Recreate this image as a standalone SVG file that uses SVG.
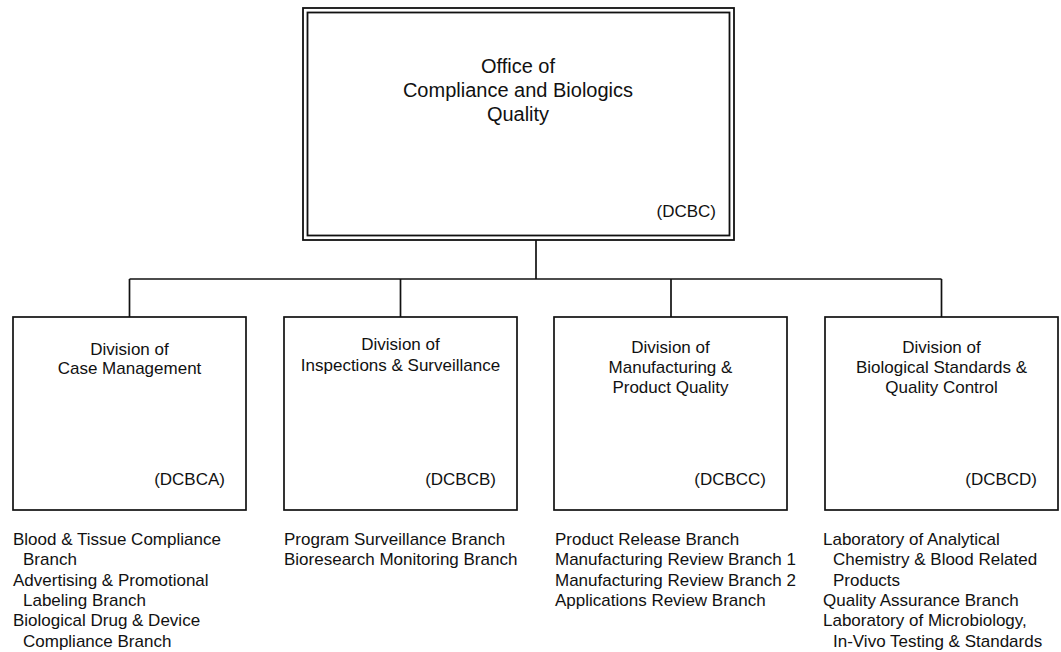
<svg xmlns="http://www.w3.org/2000/svg" width="1061" height="652" viewBox="0 0 1061 652">
<style>
text{font-family:"Liberation Sans",Arial,sans-serif;fill:#111}
.t{font-size:20px;text-anchor:middle}
.d{font-size:17px;text-anchor:middle}
.c{font-size:17px;text-anchor:end}
.l{font-size:17px}
.box{fill:#fff;stroke:#111;stroke-width:1.7}
.dbl{fill:none;stroke:#111;stroke-width:1.8}
.con{fill:none;stroke:#111;stroke-width:1.7}
</style>
<rect width="1061" height="652" fill="#fff"/>
<g id="connectors">
<line class="con" x1="536" y1="240" x2="536" y2="279"/>
<line class="con" x1="129.5" y1="279" x2="941.5" y2="279"/>
<line class="con" x1="129.5" y1="279" x2="129.5" y2="317"/>
<line class="con" x1="400.5" y1="279" x2="400.5" y2="317"/>
<line class="con" x1="671" y1="279" x2="671" y2="317"/>
<line class="con" x1="941.5" y1="279" x2="941.5" y2="317"/>
</g>
<g id="office">
<rect class="dbl" x="303" y="8" width="431" height="232" fill="#fff"/>
<rect class="dbl" x="307.5" y="12.5" width="422" height="223"/>
<text class="t" x="518" y="73">Office of</text>
<text class="t" x="518" y="97">Compliance and Biologics</text>
<text class="t" x="518" y="121">Quality</text>
<text class="c" x="716" y="217">(DCBC)</text>
</g>
<g id="dcbca">
<rect class="box" x="13" y="317" width="233" height="193"/>
<text class="d" x="129.5" y="355">Division of</text>
<text class="d" x="129.5" y="374">Case Management</text>
<text class="c" x="225" y="485">(DCBCA)</text>
<text class="l" x="13" y="545">Blood &amp; Tissue Compliance</text>
<text class="l" x="23" y="565.3">Branch</text>
<text class="l" x="13" y="585.6">Advertising &amp; Promotional</text>
<text class="l" x="23" y="605.9">Labeling Branch</text>
<text class="l" x="13" y="626.2">Biological Drug &amp; Device</text>
<text class="l" x="23" y="646.5">Compliance Branch</text>
</g>
<g id="dcbcb">
<rect class="box" x="284" y="317" width="233" height="193"/>
<text class="d" x="400.5" y="350">Division of</text>
<text class="d" x="400.5" y="371">Inspections &amp; Surveillance</text>
<text class="c" x="496" y="485">(DCBCB)</text>
<text class="l" x="284" y="545">Program Surveillance Branch</text>
<text class="l" x="284" y="565.3">Bioresearch Monitoring Branch</text>
</g>
<g id="dcbcc">
<rect class="box" x="554" y="317" width="233" height="193"/>
<text class="d" x="670.5" y="353">Division of</text>
<text class="d" x="670.5" y="373">Manufacturing &amp;</text>
<text class="d" x="670.5" y="393">Product Quality</text>
<text class="c" x="766" y="485">(DCBCC)</text>
<text class="l" x="555" y="545">Product Release Branch</text>
<text class="l" x="555" y="565.3">Manufacturing Review Branch 1</text>
<text class="l" x="555" y="585.6">Manufacturing Review Branch 2</text>
<text class="l" x="555" y="605.9">Applications Review Branch</text>
</g>
<g id="dcbcd">
<rect class="box" x="825" y="317" width="233" height="193"/>
<text class="d" x="941.5" y="353">Division of</text>
<text class="d" x="941.5" y="373">Biological Standards &amp;</text>
<text class="d" x="941.5" y="393">Quality Control</text>
<text class="c" x="1037" y="485">(DCBCD)</text>
<text class="l" x="823" y="545">Laboratory of Analytical</text>
<text class="l" x="833" y="565.3">Chemistry &amp; Blood Related</text>
<text class="l" x="833" y="585.6">Products</text>
<text class="l" x="823" y="605.9">Quality Assurance Branch</text>
<text class="l" x="823" y="626.2">Laboratory of Microbiology,</text>
<text class="l" x="833" y="646.5">In-Vivo Testing &amp; Standards</text>
</g>
</svg>
